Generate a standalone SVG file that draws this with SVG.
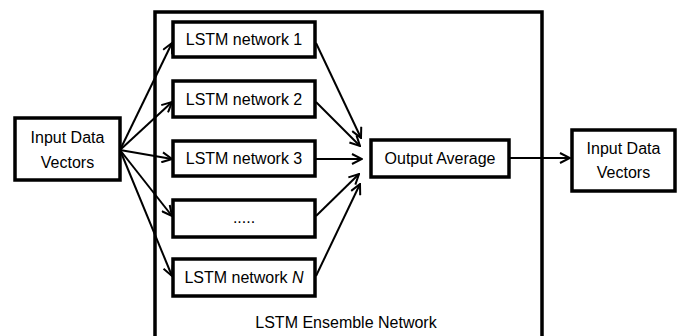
<svg xmlns="http://www.w3.org/2000/svg" width="684" height="336" viewBox="0 0 684 336">
  <style>
    .box { fill: #ffffff; stroke: #000000; stroke-width: 3.5; }
    .frame { fill: none; stroke: #000000; stroke-width: 3.5; }
    .lbl { font-family: "Liberation Sans", Arial, sans-serif; font-size: 16px; fill: #000000; text-anchor: middle; }
    .edge { fill: none; stroke: #000000; stroke-width: 2; marker-end: url(#arrow); }
  </style>
  <defs>
    <marker id="arrow" viewBox="0 0 12 12" refX="11" refY="6" markerWidth="12" markerHeight="12" markerUnits="userSpaceOnUse" orient="auto">
      <path d="M1,1 L11,6 L1,11" fill="none" stroke="#000000" stroke-width="2"/>
    </marker>
  </defs>
  <rect width="684" height="336" fill="#ffffff"/>

  <!-- ensemble container (open at the bottom edge) -->
  <g id="ensemble">
    <path class="frame" d="M155,340 L155,12 L542,12 L542,340"/>
    <text class="lbl" x="346" y="328" font-size="14.5">LSTM Ensemble Network</text>
  </g>

  <g id="connectors">
    <!-- input fan-out -->
    <line class="edge" x1="120" y1="150" x2="172" y2="43"/>
    <line class="edge" x1="120" y1="150" x2="172" y2="102"/>
    <line class="edge" x1="120" y1="150" x2="172" y2="159"/>
    <line class="edge" x1="120" y1="150" x2="172" y2="216"/>
    <line class="edge" x1="120" y1="150" x2="172" y2="276"/>
    <!-- fan-in to the average -->
    <line class="edge" x1="316" y1="43" x2="361" y2="138"/>
    <line class="edge" x1="316" y1="102" x2="360" y2="146"/>
    <line class="edge" x1="316" y1="159" x2="362" y2="159"/>
    <line class="edge" x1="316" y1="216" x2="359" y2="174"/>
    <line class="edge" x1="316" y1="276" x2="360" y2="184"/>
    <!-- average to output -->
    <line class="edge" x1="509" y1="158" x2="570" y2="158"/>
  </g>

  <g id="input">
    <rect class="box" x="15" y="118" width="105" height="62"/>
    <text class="lbl" x="67.5" y="143">Input Data</text>
    <text class="lbl" x="67.5" y="168">Vectors</text>
  </g>

  <g id="net1">
    <rect class="box" x="173" y="22" width="142" height="35"/>
    <text class="lbl" x="244" y="45">LSTM network 1</text>
  </g>
  <g id="net2">
    <rect class="box" x="173" y="81" width="142" height="36"/>
    <text class="lbl" x="244" y="105">LSTM network 2</text>
  </g>
  <g id="net3">
    <rect class="box" x="173" y="141" width="142" height="35"/>
    <text class="lbl" x="244" y="164">LSTM network 3</text>
  </g>
  <g id="netDots">
    <rect class="box" x="173" y="200" width="142" height="37"/>
    <text class="lbl" x="244" y="223">.....</text>
  </g>
  <g id="netN">
    <rect class="box" x="173" y="259" width="142" height="37"/>
    <text class="lbl" x="244" y="283">LSTM network <tspan font-style="italic">N</tspan></text>
  </g>

  <g id="average">
    <rect class="box" x="371" y="140" width="138" height="37"/>
    <text class="lbl" x="440" y="164">Output Average</text>
  </g>

  <g id="output">
    <rect class="box" x="572" y="130" width="103" height="61"/>
    <text class="lbl" x="623.5" y="154">Input Data</text>
    <text class="lbl" x="623.5" y="178">Vectors</text>
  </g>
</svg>
